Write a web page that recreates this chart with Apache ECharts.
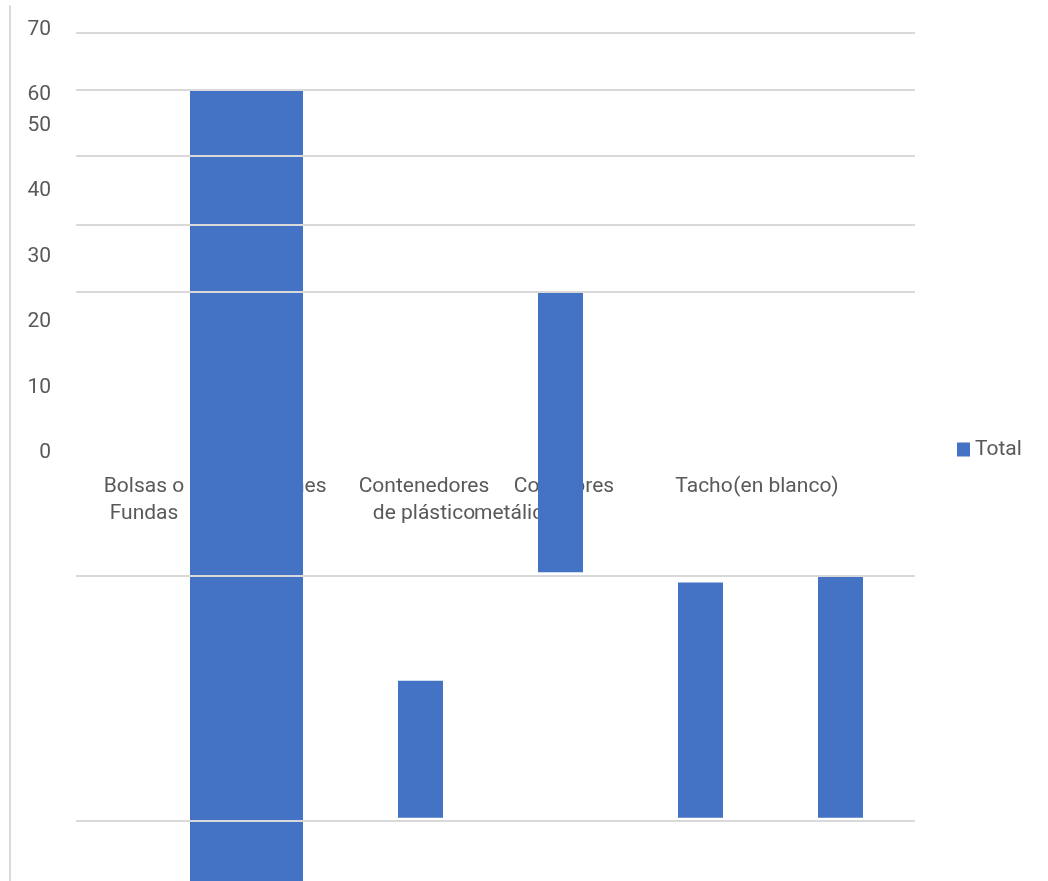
<!DOCTYPE html>
<html>
<head>
<meta charset="utf-8">
<script src="https://cdn.jsdelivr.net/npm/echarts@6/dist/echarts.min.js"></script>
<style>
html,body{margin:0;padding:0;background:#fff;}
#c{width:1048px;height:881px;}
</style>
</head>
<body>
<div id="c"></div>
<script>
// ---- data ----
const categories = ['Bolsas o Fundas', 'Cartones', 'Contenedores de plástico', 'Colectores metálicos', 'Tacho', '(en blanco)'];
const labelLine1 = ['Bolsas o', 'Cartones', 'Contenedores', 'Colectores', 'Tacho', '(en blanco)'];
const labelLine2 = ['Fundas', '', 'de plástico', 'metálicos', '', ''];
const barStart  = [0,    null, 5.6,  27.3, 5.6,  5.6];
const barLength = [69.9, null, 12.1, 24.8, 20.8, 21.3];
const gridValues = [75, 70, 64.1, 58, 52.1, 27, 5.3];
const yTickLabelsLower = [0, 10, 20, 30, 40, 50];
const yTickLabelsUpper = [60, 70];
const seriesName = 'Total';

// ---- styling ----
const FONT = 'Roboto';
const FS = 21;
const TXT = '#595959';
const BAR = '#4472C4';
const GRIDC = '#d9d9d9';
const line1Style = ['n', 'n', 'n', 'n', 'n', 'e'];
const line2Style = ['n', 'n', 'n', 'm', 'n', 'n'];
const baseRich = {fontFamily: FONT, fontSize: FS, color: TXT, lineHeight: 27};

const chart = echarts.init(document.getElementById('c'), null, {renderer: 'canvas'});

const valMin = 0, valMax = 75;
function hiddenVal(gi) {
  return {type: 'value', gridIndex: gi, min: valMin, max: valMax, show: false};
}

const option = {
  animation: false,
  backgroundColor: '#ffffff',
  textStyle: {fontFamily: FONT},
  legend: {
    data: [seriesName], left: 952, top: 434, icon: 'rect',
    itemWidth: 13, itemHeight: 14, selectedMode: false,
    textStyle: {fontFamily: FONT, fontSize: FS, color: TXT}
  },
  grid: [
    {left: 76, right: 133, top: 33, bottom: 0, outerBoundsMode: 'none'},      // 0 gridlines
    {left: 70.5, right: 137.5, top: 33, bottom: 0, outerBoundsMode: 'none'},  // 1 bars
    {left: 190, right: 745, top: 33, bottom: 0, outerBoundsMode: 'none'},     // 2 first bar
    {left: 74, right: 134, top: 400, bottom: 415.5, outerBoundsMode: 'none'}, // 3 category labels
    {left: 59, width: 10, top: 125.5, bottom: 428, outerBoundsMode: 'none'},  // 4 y labels low
    {left: 59, width: 10, top: 29.5, bottom: 786, outerBoundsMode: 'none'},   // 5 y labels high
    {left: 10, width: 10, top: 6, bottom: 0, outerBoundsMode: 'none'}         // 6 left rule
  ],
  xAxis: [
    {type: 'category', gridIndex: 0, data: [''], show: false},
    {type: 'category', gridIndex: 1, data: categories, show: false},
    {type: 'category', gridIndex: 2, data: [categories[0]], show: false},
    {type: 'category', gridIndex: 3, data: categories,
      axisLine: {show: false}, axisTick: {show: false}, splitLine: {show: false},
      axisLabel: {
        interval: 0, margin: 8,
        formatter: function (v, i) {
          let s = '{' + line1Style[i] + '|' + labelLine1[i] + '}';
          if (labelLine2[i]) s += '\n{' + line2Style[i] + '|' + labelLine2[i] + '}';
          return s;
        },
        rich: {
          n: Object.assign({}, baseRich),
          m: Object.assign({}, baseRich, {padding: [0, 88, 0, 0]}),
          e: Object.assign({}, baseRich, {padding: [0, 116, 0, 0]})
        }
      }
    },
    {type: 'value', gridIndex: 4, show: false},
    {type: 'value', gridIndex: 5, show: false},
    {type: 'value', gridIndex: 6, show: false}
  ],
  yAxis: [
    hiddenVal(0),
    hiddenVal(1),
    hiddenVal(2),
    {type: 'value', gridIndex: 3, show: false},
    {type: 'value', gridIndex: 4, min: yTickLabelsLower[0], max: yTickLabelsLower[yTickLabelsLower.length - 1], interval: 10,
      axisLine: {show: false}, axisTick: {show: false}, splitLine: {show: false},
      axisLabel: {margin: 8, fontFamily: FONT, fontSize: FS, color: TXT}},
    {type: 'value', gridIndex: 5, min: yTickLabelsUpper[0], max: yTickLabelsUpper[yTickLabelsUpper.length - 1], interval: 10,
      axisLine: {show: false}, axisTick: {show: false}, splitLine: {show: false},
      axisLabel: {margin: 8, fontFamily: FONT, fontSize: FS, color: TXT}},
    {type: 'value', gridIndex: 6, min: 0, max: 1,
      axisLine: {show: true, lineStyle: {color: GRIDC, width: 2}},
      axisTick: {show: false}, axisLabel: {show: false}, splitLine: {show: false}}
  ],
  series: [
    {
      type: 'line', name: 'grid', xAxisIndex: 0, yAxisIndex: 0, data: [],
      silent: true,
      markLine: {
        silent: true, symbol: 'none', label: {show: false}, animation: false,
        lineStyle: {color: GRIDC, width: 2, type: 'solid'},
        emphasis: {disabled: true},
        data: gridValues.map(v => ({yAxis: v}))
      }
    },
    {
      type: 'bar', name: 'base', xAxisIndex: 1, yAxisIndex: 1, stack: 'm', silent: true,
      barWidth: 45, itemStyle: {color: 'transparent'},
      data: barStart.map((v, i) => (i === 0 || v == null) ? '-' : v)
    },
    {
      type: 'bar', name: seriesName, xAxisIndex: 1, yAxisIndex: 1, stack: 'm',
      barWidth: 45, itemStyle: {color: BAR},
      data: barLength.map((v, i) => (i === 0 || v == null) ? '-' : v)
    },
    {
      type: 'bar', name: seriesName, xAxisIndex: 2, yAxisIndex: 2,
      barWidth: '100%', itemStyle: {color: BAR},
      data: [barLength[0]]
    }
  ]
};
chart.setOption(option);
</script>
</body>
</html>
